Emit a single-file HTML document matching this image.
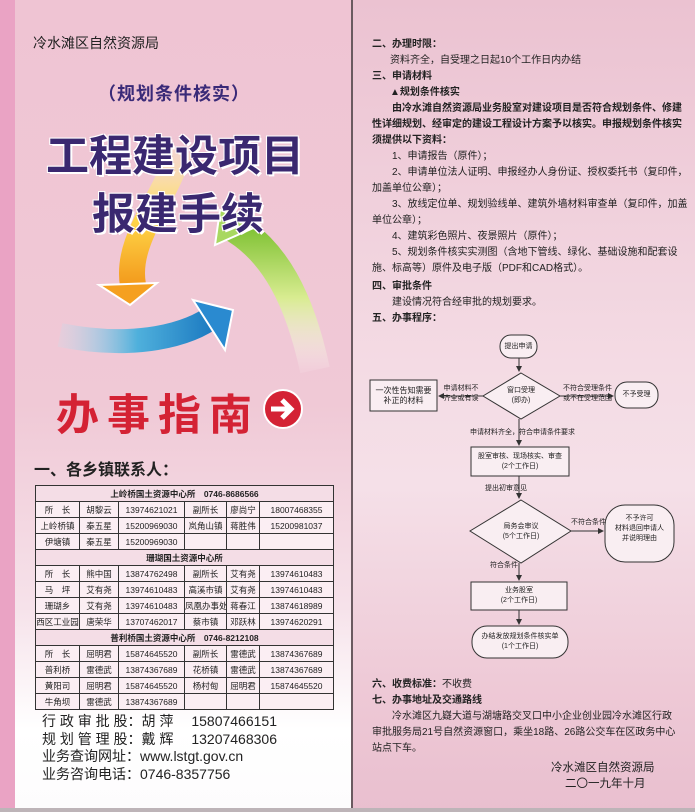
<!DOCTYPE html>
<html><head><meta charset="utf-8"><style>
*{margin:0;padding:0;box-sizing:border-box}
body{width:695px;height:812px;position:relative;overflow:hidden;font-family:"Liberation Sans","Noto Sans CJK SC",sans-serif;background:#fff}
.a{position:absolute;white-space:nowrap}
#strip{left:0;top:0;width:15px;height:812px;background:#eaa3c4}
#lp{left:15px;top:0;width:337px;height:810px;background:linear-gradient(180deg,#efc4d3 0%,#f0c9d6 50%,#f6e2ea 75%,#fff 90%,#fdfcfd 100%)}
#div{left:351px;top:0;width:2px;height:812px;background:#6a5a60}
#rp{left:353px;top:0;width:342px;height:810px;background:linear-gradient(180deg,#ebc2d1 0%,#f4dbe4 45%,#f5e0e8 60%,#eec9d6 85%,#e9bfcf 100%)}
#bot{left:0;top:808px;width:695px;height:4px;background:#bdb4b8}
table{position:absolute;left:35px;top:485px;width:298px;border-collapse:collapse;table-layout:fixed;font-size:8.5px;color:#222;background:#fbeef3}
td{border:1px solid #333;height:16px;text-align:center;padding:0;white-space:nowrap;overflow:hidden}
td.h{font-weight:bold;background:#f4dde6}
.r{font-size:10px;color:#222;line-height:16px}
.r b{font-weight:bold}
.j{white-space:nowrap}
.fc{position:absolute;font-size:7px;color:#222;text-align:center;line-height:10px;white-space:nowrap}
</style></head><body>
<div class="a" id="strip"></div>
<div class="a" id="lp"></div>
<div class="a" id="rp"></div>
<div class="a" id="div"></div>
<div class="a" id="bot"></div>

<svg class="a" style="left:15px;top:0" width="337" height="470">
<defs>
<linearGradient id="gy" x1="0" y1="0" x2="0" y2="1"><stop offset="0" stop-color="#fff6c0" stop-opacity=".3"/><stop offset=".5" stop-color="#ffd84a"/><stop offset="1" stop-color="#f39a1c"/></linearGradient>
<linearGradient id="gb" x1="0" y1="0" x2="1" y2="0"><stop offset="0" stop-color="#bfe0f0" stop-opacity=".2"/><stop offset=".5" stop-color="#4fb0dc"/><stop offset="1" stop-color="#1a78c0"/></linearGradient>
<linearGradient id="gg" x1="0" y1="1" x2="0" y2="0"><stop offset="0" stop-color="#fff" stop-opacity=".1"/><stop offset=".5" stop-color="#d8ec90"/><stop offset="1" stop-color="#7cc030"/></linearGradient>
</defs>
<path d="M165 150 C150 200,110 240,118 285" stroke="url(#gy)" stroke-width="26" fill="none"/>
<polygon points="84,285 142,283 115,305" fill="#f5a020" stroke="#fff" stroke-width="2"/>
<path d="M45 335 C120 350,175 335,200 315" stroke="url(#gb)" stroke-width="24" fill="none"/>
<polygon points="178,300 218,310 210,350" fill="#2a8ad0" stroke="#fff" stroke-width="2"/>
<path d="M300 370 C285 300,260 250,215 225" stroke="url(#gg)" stroke-width="30" fill="none"/>
<polygon points="205,210 245,225 200,245" fill="#a8d860" stroke="#fff" stroke-width="2"/>
</svg>

<div class="a" style="left:33px;top:33px;font-size:14px;color:#222">冷水滩区自然资源局</div>
<div class="a" style="left:98px;top:80px;font-size:18px;font-weight:bold;color:#3a2a78;letter-spacing:1px">（规划条件核实）</div>
<div class="a" style="left:46px;top:122px;font-size:43px;font-weight:bold;color:#3a2870;text-shadow:2px 2px 0 #fff,-1px -1px 0 #fff,1px -1px 0 #fff,-1px 1px 0 #fff">工程建设项目</div>
<div class="a" style="left:92px;top:180px;font-size:43px;font-weight:bold;color:#3a2870;text-shadow:2px 2px 0 #fff,-1px -1px 0 #fff,1px -1px 0 #fff,-1px 1px 0 #fff">报建手续</div>
<div class="a" style="left:56px;top:381px;font-size:43px;font-weight:bold;color:#d42234;letter-spacing:8px">办事指南</div>
<svg class="a" style="left:262px;top:388px" width="42" height="42"><circle cx="21" cy="21" r="19" fill="#d42234" stroke="#fff" stroke-width="2"/><path d="M9 21h18M20 12l9 9-9 9" stroke="#fff" stroke-width="5" fill="none"/></svg>

<div class="a" style="left:34px;top:456px;font-size:16px;font-weight:bold;color:#222">一、各乡镇联系人：</div>

<table>
<colgroup><col style="width:44px"><col style="width:39px"><col style="width:66px"><col style="width:42px"><col style="width:33px"><col style="width:74px"></colgroup>
<tr><td class="h" colspan="6">上岭桥国土资源中心所　0746-8686566</td></tr>
<tr><td>所　长</td><td>胡黎云</td><td>13974621021</td><td>副所长</td><td>廖尚宁</td><td>18007468355</td></tr>
<tr><td>上岭桥镇</td><td>秦五星</td><td>15200969030</td><td>岚角山镇</td><td>蒋胜伟</td><td>15200981037</td></tr>
<tr><td>伊塘镇</td><td>秦五星</td><td>15200969030</td><td></td><td></td><td></td></tr>
<tr><td class="h" colspan="6">珊瑚国土资源中心所</td></tr>
<tr><td>所　长</td><td>熊中国</td><td>13874762498</td><td>副所长</td><td>艾有尧</td><td>13974610483</td></tr>
<tr><td>马　坪</td><td>艾有尧</td><td>13974610483</td><td>高溪市镇</td><td>艾有尧</td><td>13974610483</td></tr>
<tr><td>珊瑚乡</td><td>艾有尧</td><td>13974610483</td><td>凤凰办事处</td><td>蒋春江</td><td>13874618989</td></tr>
<tr><td>西区工业园</td><td>唐荣华</td><td>13707462017</td><td>蔡市镇</td><td>邓跃林</td><td>13974620291</td></tr>
<tr><td class="h" colspan="6">普利桥国土资源中心所　0746-8212108</td></tr>
<tr><td>所　长</td><td>屈明君</td><td>15874645520</td><td>副所长</td><td>雷德武</td><td>13874367689</td></tr>
<tr><td>普利桥</td><td>雷德武</td><td>13874367689</td><td>花桥镇</td><td>雷德武</td><td>13874367689</td></tr>
<tr><td>黄阳司</td><td>屈明君</td><td>15874645520</td><td>杨村甸</td><td>屈明君</td><td>15874645520</td></tr>
<tr><td>牛角坝</td><td>雷德武</td><td>13874367689</td><td></td><td></td><td></td></tr>
</table>

<div class="a" style="left:42px;top:713px;font-size:14px;color:#222;line-height:17.7px">
行 政 审 批 股：胡 萍　 15807466151<br>规 划 管 理 股：戴 辉　 13207468306<br>业务查询网址：www.lstgt.gov.cn<br>业务咨询电话：0746-8357756</div>

<div class="a r" style="left:372px;top:37px">
<b>二、办理时限：</b><br>
<span style="padding-left:18px">资料齐全，自受理之日起10个工作日内办结</span><br>
<b>三、申请材料</b><br>
<b style="padding-left:18px">▲规划条件核实</b><br>
<div class="j"><b>　　由冷水滩自然资源局业务股室对建设项目是否符合规划条件、修建</b></div>
<div class="j"><b>性详细规划、经审定的建设工程设计方案予以核实。申报规划条件核实</b></div>
<b>须提供以下资料：</b><br>
　　1、申请报告（原件）；<br>
<div class="j">　　2、申请单位法人证明、申报经办人身份证、授权委托书（复印件，</div>
加盖单位公章）；<br>
<div class="j">　　3、放线定位单、规划验线单、建筑外墙材料审查单（复印件，加盖</div>
单位公章）；<br>
　　4、建筑彩色照片、夜景照片（原件）；<br>
<div class="j">　　5、规划条件核实实测图（含地下管线、绿化、基础设施和配套设</div>
施、标高等）原件及电子版（PDF和CAD格式）。<br>
<div style="height:2px"></div>
<b>四、审批条件</b><br>
　　建设情况符合经审批的规划要求。<br>
<b>五、办事程序：</b>
</div>

<svg class="a" style="left:0;top:0" width="695" height="812">
<defs><marker id="ar" markerWidth="6" markerHeight="6" refX="5" refY="3" orient="auto"><path d="M0,0L6,3L0,6z" fill="#333"/></marker></defs>
<g stroke="#333" stroke-width="1" fill="#f9eef2">
<rect x="500" y="335" width="37" height="23" rx="11"/>
<polygon points="521,373 560,396 521,419 483,396"/>
<rect x="370" y="380" width="67" height="31"/>
<rect x="615" y="382" width="43" height="26" rx="12"/>
<rect x="471" y="447" width="98" height="29"/>
<polygon points="521,500 571,531 521,563 470,531"/>
<rect x="605" y="505" width="69" height="57" rx="20"/>
<rect x="471" y="582" width="96" height="28"/>
<rect x="472" y="626" width="96" height="32" rx="15"/>
</g>
<g stroke="#333" stroke-width="1" fill="none" marker-end="url(#ar)">
<line x1="519" y1="358" x2="519" y2="371"/>
<line x1="483" y1="396" x2="439" y2="396"/>
<line x1="560" y1="396" x2="613" y2="396"/>
<line x1="519" y1="419" x2="519" y2="445"/>
<line x1="519" y1="476" x2="519" y2="498"/>
<line x1="571" y1="531" x2="603" y2="531"/>
<line x1="519" y1="563" x2="519" y2="580"/>
<line x1="519" y1="610" x2="519" y2="624"/>
</g>
</svg>
<div class="fc" style="left:500px;top:342px;width:37px">提出申请</div>
<div class="fc" style="left:495px;top:386px;width:52px">窗口受理<br>(即办)</div>
<div class="fc" style="left:370px;top:386px;width:67px;font-size:8px">一次性告知需要<br>补正的材料</div>
<div class="fc" style="left:440px;top:384px;width:42px">申请材料不<br>齐全或有误</div>
<div class="fc" style="left:560px;top:384px;width:55px">不符合受理条件<br>或不在受理范围</div>
<div class="fc" style="left:615px;top:390px;width:43px">不予受理</div>
<div class="fc" style="left:470px;top:428px;width:140px;text-align:left">申请材料齐全，符合申请条件要求</div>
<div class="fc" style="left:471px;top:452px;width:98px">股室审核、现场核实、审查<br>(2个工作日)</div>
<div class="fc" style="left:485px;top:484px;width:60px;text-align:left">提出初审意见</div>
<div class="fc" style="left:490px;top:522px;width:62px">局务会审议<br>(5个工作日)</div>
<div class="fc" style="left:571px;top:518px;width:34px">不符合条件</div>
<div class="fc" style="left:605px;top:514px;width:69px">不予许可<br>材料退回申请人<br>并说明理由</div>
<div class="fc" style="left:490px;top:561px;width:40px;text-align:left">符合条件</div>
<div class="fc" style="left:471px;top:586px;width:96px">业务股室<br>(2个工作日)</div>
<div class="fc" style="left:472px;top:632px;width:96px">办结发放规划条件核实单<br>(1个工作日)</div>

<div class="a r" style="left:372px;top:677px">
<b>六、收费标准：</b>不收费<br>
<b>七、办事地址及交通路线</b><br>
<div class="j">　　冷水滩区九嶷大道与湖塘路交叉口中小企业创业园冷水滩区行政</div>
<div class="j">审批服务局21号自然资源窗口，乘坐18路、26路公交车在区政务中心</div>
站点下车。
</div>
<div class="a" style="left:551px;top:759px;font-size:11.5px;color:#222">冷水滩区自然资源局</div>
<div class="a" style="left:565px;top:775px;font-size:11.5px;color:#222">二〇一九年十月</div>
</body></html>
